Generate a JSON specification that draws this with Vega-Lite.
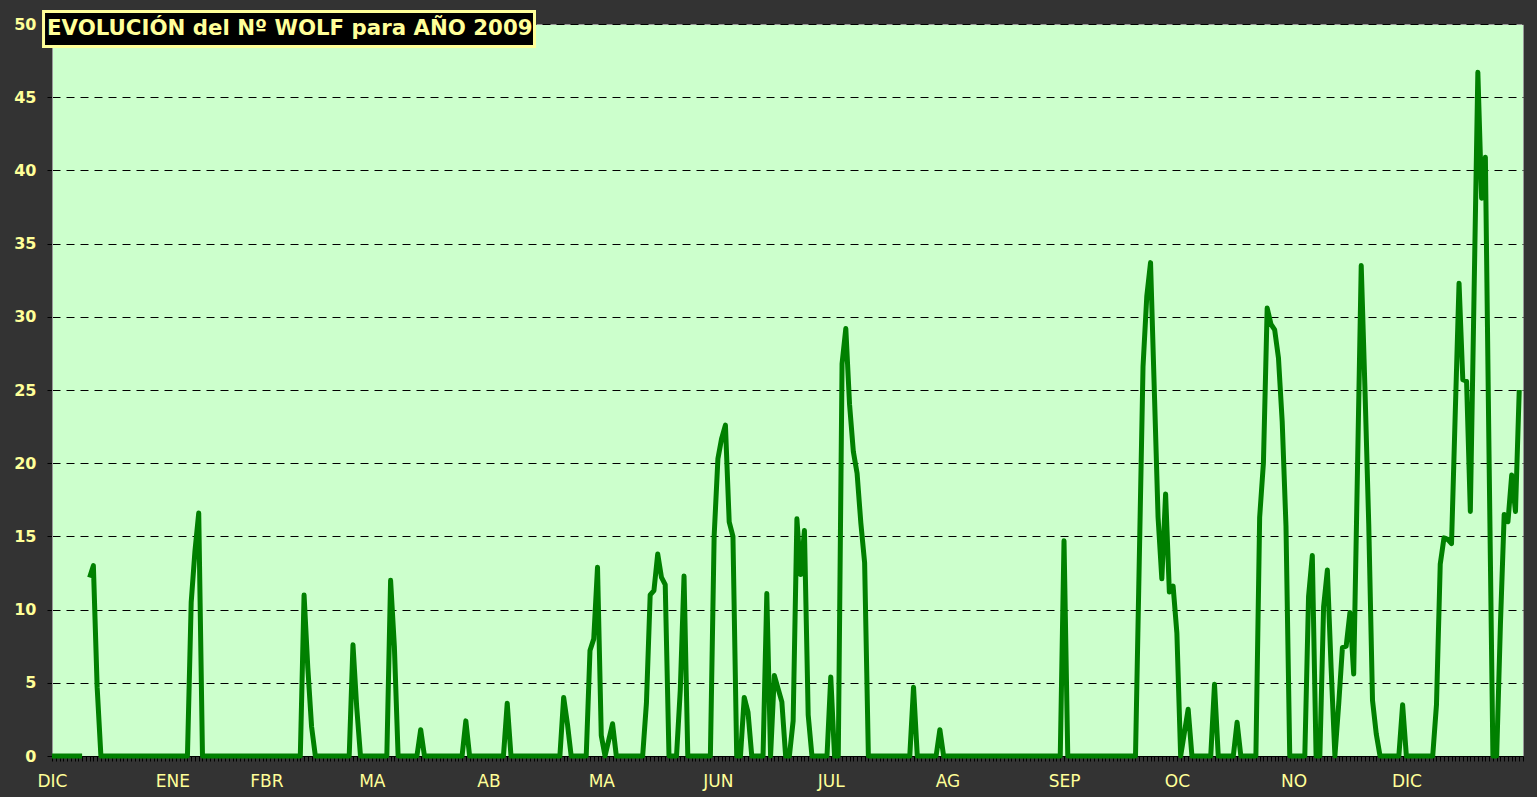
{
  "$schema": "https://vega.github.io/schema/vega-lite/v6.json",
  "width": 1471,
  "height": 732,
  "autosize": {"type": "none"},
  "padding": {"left": 52, "top": 24, "right": 14, "bottom": 41},
  "background": "#333333",
  "config": {
    "font": "DejaVu Sans",
    "view": {"fill": "#ccffcc", "stroke": "#999999", "strokeWidth": 1}
  },
  "title": {
    "text": "EVOLUCIÓN del Nº WOLF para AÑO 2009",
    "anchor": "start",
    "frame": "group",
    "color": "#ffff99",
    "font": "DejaVu Sans",
    "fontSize": 21.3,
    "fontWeight": "bold",
    "baseline": "alphabetic",
    "offset": -18,
    "dx": -5,
    "dy": 28
  },
  "datasets": {
    "wolf2009": [
      {"fecha":"2008-12-06","wolf":0},{"fecha":"2008-12-07","wolf":0},{"fecha":"2008-12-08","wolf":0},{"fecha":"2008-12-09","wolf":0},{"fecha":"2008-12-10","wolf":0},{"fecha":"2008-12-11","wolf":0},{"fecha":"2008-12-12","wolf":0},{"fecha":"2008-12-13","wolf":0},{"fecha":"2008-12-14","wolf":0},{"fecha":"2008-12-15","wolf":null},{"fecha":"2008-12-16","wolf":12.2},{"fecha":"2008-12-17","wolf":13.0},{"fecha":"2008-12-18","wolf":4.7},{"fecha":"2008-12-19","wolf":0},{"fecha":"2008-12-20","wolf":0},{"fecha":"2008-12-21","wolf":0},{"fecha":"2008-12-22","wolf":0},{"fecha":"2008-12-23","wolf":0},{"fecha":"2008-12-24","wolf":0},{"fecha":"2008-12-25","wolf":0},{"fecha":"2008-12-26","wolf":0},{"fecha":"2008-12-27","wolf":0},{"fecha":"2008-12-28","wolf":0},{"fecha":"2008-12-29","wolf":0},{"fecha":"2008-12-30","wolf":0},{"fecha":"2008-12-31","wolf":0},
      {"fecha":"2009-01-01","wolf":0},{"fecha":"2009-01-02","wolf":0},{"fecha":"2009-01-03","wolf":0},{"fecha":"2009-01-04","wolf":0},{"fecha":"2009-01-05","wolf":0},{"fecha":"2009-01-06","wolf":0},{"fecha":"2009-01-07","wolf":0},{"fecha":"2009-01-08","wolf":0},{"fecha":"2009-01-09","wolf":0},{"fecha":"2009-01-10","wolf":0},{"fecha":"2009-01-11","wolf":0},{"fecha":"2009-01-12","wolf":10.5},{"fecha":"2009-01-13","wolf":14.0},{"fecha":"2009-01-14","wolf":16.6},{"fecha":"2009-01-15","wolf":0},{"fecha":"2009-01-16","wolf":0},{"fecha":"2009-01-17","wolf":0},{"fecha":"2009-01-18","wolf":0},{"fecha":"2009-01-19","wolf":0},{"fecha":"2009-01-20","wolf":0},{"fecha":"2009-01-21","wolf":0},{"fecha":"2009-01-22","wolf":0},{"fecha":"2009-01-23","wolf":0},{"fecha":"2009-01-24","wolf":0},{"fecha":"2009-01-25","wolf":0},{"fecha":"2009-01-26","wolf":0},{"fecha":"2009-01-27","wolf":0},{"fecha":"2009-01-28","wolf":0},{"fecha":"2009-01-29","wolf":0},{"fecha":"2009-01-30","wolf":0},{"fecha":"2009-01-31","wolf":0},
      {"fecha":"2009-02-01","wolf":0},{"fecha":"2009-02-02","wolf":0},{"fecha":"2009-02-03","wolf":0},{"fecha":"2009-02-04","wolf":0},{"fecha":"2009-02-05","wolf":0},{"fecha":"2009-02-06","wolf":0},{"fecha":"2009-02-07","wolf":0},{"fecha":"2009-02-08","wolf":0},{"fecha":"2009-02-09","wolf":0},{"fecha":"2009-02-10","wolf":0},{"fecha":"2009-02-11","wolf":11.0},{"fecha":"2009-02-12","wolf":6.0},{"fecha":"2009-02-13","wolf":2.0},{"fecha":"2009-02-14","wolf":0},{"fecha":"2009-02-15","wolf":0},{"fecha":"2009-02-16","wolf":0},{"fecha":"2009-02-17","wolf":0},{"fecha":"2009-02-18","wolf":0},{"fecha":"2009-02-19","wolf":0},{"fecha":"2009-02-20","wolf":0},{"fecha":"2009-02-21","wolf":0},{"fecha":"2009-02-22","wolf":0},{"fecha":"2009-02-23","wolf":0},{"fecha":"2009-02-24","wolf":7.6},{"fecha":"2009-02-25","wolf":3.3},{"fecha":"2009-02-26","wolf":0},{"fecha":"2009-02-27","wolf":0},{"fecha":"2009-02-28","wolf":0},
      {"fecha":"2009-03-01","wolf":0},{"fecha":"2009-03-02","wolf":0},{"fecha":"2009-03-03","wolf":0},{"fecha":"2009-03-04","wolf":0},{"fecha":"2009-03-05","wolf":0},{"fecha":"2009-03-06","wolf":12.0},{"fecha":"2009-03-07","wolf":7.5},{"fecha":"2009-03-08","wolf":0},{"fecha":"2009-03-09","wolf":0},{"fecha":"2009-03-10","wolf":0},{"fecha":"2009-03-11","wolf":0},{"fecha":"2009-03-12","wolf":0},{"fecha":"2009-03-13","wolf":0},{"fecha":"2009-03-14","wolf":1.8},{"fecha":"2009-03-15","wolf":0},{"fecha":"2009-03-16","wolf":0},{"fecha":"2009-03-17","wolf":0},{"fecha":"2009-03-18","wolf":0},{"fecha":"2009-03-19","wolf":0},{"fecha":"2009-03-20","wolf":0},{"fecha":"2009-03-21","wolf":0},{"fecha":"2009-03-22","wolf":0},{"fecha":"2009-03-23","wolf":0},{"fecha":"2009-03-24","wolf":0},{"fecha":"2009-03-25","wolf":0},{"fecha":"2009-03-26","wolf":2.4},{"fecha":"2009-03-27","wolf":0},{"fecha":"2009-03-28","wolf":0},{"fecha":"2009-03-29","wolf":0},{"fecha":"2009-03-30","wolf":0},{"fecha":"2009-03-31","wolf":0},
      {"fecha":"2009-04-01","wolf":0},{"fecha":"2009-04-02","wolf":0},{"fecha":"2009-04-03","wolf":0},{"fecha":"2009-04-04","wolf":0},{"fecha":"2009-04-05","wolf":0},{"fecha":"2009-04-06","wolf":3.6},{"fecha":"2009-04-07","wolf":0},{"fecha":"2009-04-08","wolf":0},{"fecha":"2009-04-09","wolf":0},{"fecha":"2009-04-10","wolf":0},{"fecha":"2009-04-11","wolf":0},{"fecha":"2009-04-12","wolf":0},{"fecha":"2009-04-13","wolf":0},{"fecha":"2009-04-14","wolf":0},{"fecha":"2009-04-15","wolf":0},{"fecha":"2009-04-16","wolf":0},{"fecha":"2009-04-17","wolf":0},{"fecha":"2009-04-18","wolf":0},{"fecha":"2009-04-19","wolf":0},{"fecha":"2009-04-20","wolf":0},{"fecha":"2009-04-21","wolf":4.0},{"fecha":"2009-04-22","wolf":2.2},{"fecha":"2009-04-23","wolf":0},{"fecha":"2009-04-24","wolf":0},{"fecha":"2009-04-25","wolf":0},{"fecha":"2009-04-26","wolf":0},{"fecha":"2009-04-27","wolf":0},{"fecha":"2009-04-28","wolf":7.2},{"fecha":"2009-04-29","wolf":8.0},{"fecha":"2009-04-30","wolf":12.9},
      {"fecha":"2009-05-01","wolf":1.4},{"fecha":"2009-05-02","wolf":0},{"fecha":"2009-05-03","wolf":1.1},{"fecha":"2009-05-04","wolf":2.2},{"fecha":"2009-05-05","wolf":0},{"fecha":"2009-05-06","wolf":0},{"fecha":"2009-05-07","wolf":0},{"fecha":"2009-05-08","wolf":0},{"fecha":"2009-05-09","wolf":0},{"fecha":"2009-05-10","wolf":0},{"fecha":"2009-05-11","wolf":0},{"fecha":"2009-05-12","wolf":0},{"fecha":"2009-05-13","wolf":3.6},{"fecha":"2009-05-14","wolf":11.0},{"fecha":"2009-05-15","wolf":11.3},{"fecha":"2009-05-16","wolf":13.8},{"fecha":"2009-05-17","wolf":12.2},{"fecha":"2009-05-18","wolf":11.7},{"fecha":"2009-05-19","wolf":0},{"fecha":"2009-05-20","wolf":0},{"fecha":"2009-05-21","wolf":0},{"fecha":"2009-05-22","wolf":4.5},{"fecha":"2009-05-23","wolf":12.3},{"fecha":"2009-05-24","wolf":0},{"fecha":"2009-05-25","wolf":0},{"fecha":"2009-05-26","wolf":0},{"fecha":"2009-05-27","wolf":0},{"fecha":"2009-05-28","wolf":0},{"fecha":"2009-05-29","wolf":0},{"fecha":"2009-05-30","wolf":0},{"fecha":"2009-05-31","wolf":15.0},
      {"fecha":"2009-06-01","wolf":20.3},{"fecha":"2009-06-02","wolf":21.7},{"fecha":"2009-06-03","wolf":22.6},{"fecha":"2009-06-04","wolf":16.0},{"fecha":"2009-06-05","wolf":15.0},{"fecha":"2009-06-06","wolf":0},{"fecha":"2009-06-07","wolf":0},{"fecha":"2009-06-08","wolf":4.0},{"fecha":"2009-06-09","wolf":3.0},{"fecha":"2009-06-10","wolf":0},{"fecha":"2009-06-11","wolf":0},{"fecha":"2009-06-12","wolf":0},{"fecha":"2009-06-13","wolf":0},{"fecha":"2009-06-14","wolf":11.1},{"fecha":"2009-06-15","wolf":0},{"fecha":"2009-06-16","wolf":5.5},{"fecha":"2009-06-17","wolf":4.6},{"fecha":"2009-06-18","wolf":3.7},{"fecha":"2009-06-19","wolf":0},{"fecha":"2009-06-20","wolf":0},{"fecha":"2009-06-21","wolf":2.4},{"fecha":"2009-06-22","wolf":16.2},{"fecha":"2009-06-23","wolf":12.4},{"fecha":"2009-06-24","wolf":15.4},{"fecha":"2009-06-25","wolf":2.8},{"fecha":"2009-06-26","wolf":0},{"fecha":"2009-06-27","wolf":0},{"fecha":"2009-06-28","wolf":0},{"fecha":"2009-06-29","wolf":0},{"fecha":"2009-06-30","wolf":0},
      {"fecha":"2009-07-01","wolf":5.4},{"fecha":"2009-07-02","wolf":0},{"fecha":"2009-07-03","wolf":0},{"fecha":"2009-07-04","wolf":26.8},{"fecha":"2009-07-05","wolf":29.2},{"fecha":"2009-07-06","wolf":24.0},{"fecha":"2009-07-07","wolf":20.8},{"fecha":"2009-07-08","wolf":19.3},{"fecha":"2009-07-09","wolf":15.9},{"fecha":"2009-07-10","wolf":13.2},{"fecha":"2009-07-11","wolf":0},{"fecha":"2009-07-12","wolf":0},{"fecha":"2009-07-13","wolf":0},{"fecha":"2009-07-14","wolf":0},{"fecha":"2009-07-15","wolf":0},{"fecha":"2009-07-16","wolf":0},{"fecha":"2009-07-17","wolf":0},{"fecha":"2009-07-18","wolf":0},{"fecha":"2009-07-19","wolf":0},{"fecha":"2009-07-20","wolf":0},{"fecha":"2009-07-21","wolf":0},{"fecha":"2009-07-22","wolf":0},{"fecha":"2009-07-23","wolf":4.7},{"fecha":"2009-07-24","wolf":0},{"fecha":"2009-07-25","wolf":0},{"fecha":"2009-07-26","wolf":0},{"fecha":"2009-07-27","wolf":0},{"fecha":"2009-07-28","wolf":0},{"fecha":"2009-07-29","wolf":0},{"fecha":"2009-07-30","wolf":1.8},{"fecha":"2009-07-31","wolf":0},
      {"fecha":"2009-08-01","wolf":0},{"fecha":"2009-08-02","wolf":0},{"fecha":"2009-08-03","wolf":0},{"fecha":"2009-08-04","wolf":0},{"fecha":"2009-08-05","wolf":0},{"fecha":"2009-08-06","wolf":0},{"fecha":"2009-08-07","wolf":0},{"fecha":"2009-08-08","wolf":0},{"fecha":"2009-08-09","wolf":0},{"fecha":"2009-08-10","wolf":0},{"fecha":"2009-08-11","wolf":0},{"fecha":"2009-08-12","wolf":0},{"fecha":"2009-08-13","wolf":0},{"fecha":"2009-08-14","wolf":0},{"fecha":"2009-08-15","wolf":0},{"fecha":"2009-08-16","wolf":0},{"fecha":"2009-08-17","wolf":0},{"fecha":"2009-08-18","wolf":0},{"fecha":"2009-08-19","wolf":0},{"fecha":"2009-08-20","wolf":0},{"fecha":"2009-08-21","wolf":0},{"fecha":"2009-08-22","wolf":0},{"fecha":"2009-08-23","wolf":0},{"fecha":"2009-08-24","wolf":0},{"fecha":"2009-08-25","wolf":0},{"fecha":"2009-08-26","wolf":0},{"fecha":"2009-08-27","wolf":0},{"fecha":"2009-08-28","wolf":0},{"fecha":"2009-08-29","wolf":0},{"fecha":"2009-08-30","wolf":0},{"fecha":"2009-08-31","wolf":0},
      {"fecha":"2009-09-01","wolf":14.7},{"fecha":"2009-09-02","wolf":0},{"fecha":"2009-09-03","wolf":0},{"fecha":"2009-09-04","wolf":0},{"fecha":"2009-09-05","wolf":0},{"fecha":"2009-09-06","wolf":0},{"fecha":"2009-09-07","wolf":0},{"fecha":"2009-09-08","wolf":0},{"fecha":"2009-09-09","wolf":0},{"fecha":"2009-09-10","wolf":0},{"fecha":"2009-09-11","wolf":0},{"fecha":"2009-09-12","wolf":0},{"fecha":"2009-09-13","wolf":0},{"fecha":"2009-09-14","wolf":0},{"fecha":"2009-09-15","wolf":0},{"fecha":"2009-09-16","wolf":0},{"fecha":"2009-09-17","wolf":0},{"fecha":"2009-09-18","wolf":0},{"fecha":"2009-09-19","wolf":0},{"fecha":"2009-09-20","wolf":0},{"fecha":"2009-09-21","wolf":13.3},{"fecha":"2009-09-22","wolf":26.6},{"fecha":"2009-09-23","wolf":31.4},{"fecha":"2009-09-24","wolf":33.7},{"fecha":"2009-09-25","wolf":25.0},{"fecha":"2009-09-26","wolf":16.3},{"fecha":"2009-09-27","wolf":12.1},{"fecha":"2009-09-28","wolf":17.9},{"fecha":"2009-09-29","wolf":11.2},{"fecha":"2009-09-30","wolf":11.6},
      {"fecha":"2009-10-01","wolf":8.4},{"fecha":"2009-10-02","wolf":0},{"fecha":"2009-10-03","wolf":1.6},{"fecha":"2009-10-04","wolf":3.2},{"fecha":"2009-10-05","wolf":0},{"fecha":"2009-10-06","wolf":0},{"fecha":"2009-10-07","wolf":0},{"fecha":"2009-10-08","wolf":0},{"fecha":"2009-10-09","wolf":0},{"fecha":"2009-10-10","wolf":0},{"fecha":"2009-10-11","wolf":4.9},{"fecha":"2009-10-12","wolf":0},{"fecha":"2009-10-13","wolf":0},{"fecha":"2009-10-14","wolf":0},{"fecha":"2009-10-15","wolf":0},{"fecha":"2009-10-16","wolf":0},{"fecha":"2009-10-17","wolf":2.3},{"fecha":"2009-10-18","wolf":0},{"fecha":"2009-10-19","wolf":0},{"fecha":"2009-10-20","wolf":0},{"fecha":"2009-10-21","wolf":0},{"fecha":"2009-10-22","wolf":0},{"fecha":"2009-10-23","wolf":16.3},{"fecha":"2009-10-24","wolf":20.0},{"fecha":"2009-10-25","wolf":30.6},{"fecha":"2009-10-26","wolf":29.5},{"fecha":"2009-10-27","wolf":29.1},{"fecha":"2009-10-28","wolf":27.2},{"fecha":"2009-10-29","wolf":22.8},{"fecha":"2009-10-30","wolf":15.7},{"fecha":"2009-10-31","wolf":0},
      {"fecha":"2009-11-01","wolf":0},{"fecha":"2009-11-02","wolf":0},{"fecha":"2009-11-03","wolf":0},{"fecha":"2009-11-04","wolf":0},{"fecha":"2009-11-05","wolf":10.9},{"fecha":"2009-11-06","wolf":13.7},{"fecha":"2009-11-07","wolf":0},{"fecha":"2009-11-08","wolf":0},{"fecha":"2009-11-09","wolf":10.2},{"fecha":"2009-11-10","wolf":12.7},{"fecha":"2009-11-11","wolf":6.0},{"fecha":"2009-11-12","wolf":0},{"fecha":"2009-11-13","wolf":3.5},{"fecha":"2009-11-14","wolf":7.4},{"fecha":"2009-11-15","wolf":7.5},{"fecha":"2009-11-16","wolf":9.8},{"fecha":"2009-11-17","wolf":5.6},{"fecha":"2009-11-18","wolf":19.5},{"fecha":"2009-11-19","wolf":33.5},{"fecha":"2009-11-20","wolf":25.0},{"fecha":"2009-11-21","wolf":15.8},{"fecha":"2009-11-22","wolf":3.8},{"fecha":"2009-11-23","wolf":1.5},{"fecha":"2009-11-24","wolf":0},{"fecha":"2009-11-25","wolf":0},{"fecha":"2009-11-26","wolf":0},{"fecha":"2009-11-27","wolf":0},{"fecha":"2009-11-28","wolf":0},{"fecha":"2009-11-29","wolf":0},{"fecha":"2009-11-30","wolf":3.5},
      {"fecha":"2009-12-01","wolf":0},{"fecha":"2009-12-02","wolf":0},{"fecha":"2009-12-03","wolf":0},{"fecha":"2009-12-04","wolf":0},{"fecha":"2009-12-05","wolf":0},{"fecha":"2009-12-06","wolf":0},{"fecha":"2009-12-07","wolf":0},{"fecha":"2009-12-08","wolf":0},{"fecha":"2009-12-09","wolf":3.5},{"fecha":"2009-12-10","wolf":13.1},{"fecha":"2009-12-11","wolf":14.9},{"fecha":"2009-12-12","wolf":14.8},{"fecha":"2009-12-13","wolf":14.5},{"fecha":"2009-12-14","wolf":23.5},{"fecha":"2009-12-15","wolf":32.3},{"fecha":"2009-12-16","wolf":25.7},{"fecha":"2009-12-17","wolf":25.6},{"fecha":"2009-12-18","wolf":16.7},{"fecha":"2009-12-19","wolf":31.7},{"fecha":"2009-12-20","wolf":46.7},{"fecha":"2009-12-21","wolf":38.1},{"fecha":"2009-12-22","wolf":40.9},{"fecha":"2009-12-23","wolf":20.0},{"fecha":"2009-12-24","wolf":0},{"fecha":"2009-12-25","wolf":0},{"fecha":"2009-12-26","wolf":9.0},{"fecha":"2009-12-27","wolf":16.5},{"fecha":"2009-12-28","wolf":16.0},{"fecha":"2009-12-29","wolf":19.2},{"fecha":"2009-12-30","wolf":16.7},{"fecha":"2009-12-31","wolf":25.0}
    ]
  },
  "layer": [
    {
      "data": {"name": "wolf2009"},
      "mark": {"type": "line", "color": "#008000", "strokeWidth": 5, "strokeJoin": "round", "strokeCap": "butt", "invalid": "break-paths-show-domains"},
      "encoding": {
        "x": {
          "field": "fecha",
          "type": "temporal",
          "scale": {"type": "utc", "domain": [{"year": 2008, "month": 12, "date": 6, "utc": true}, {"year": 2010, "month": 1, "date": 1, "utc": true}]},
          "axis": {
            "title": null,
            "grid": false,
            "tickCount": {"interval": "day", "step": 1},
            "labelExpr": "(utcmonth(datum.value)==0 ? utcdate(datum.value)==7 : (utcdate(datum.value)==1 || (utcyear(datum.value)==2008 && utcdate(datum.value)==6))) ? ['ENE','FBR','MA','AB','MA','JUN','JUL','AG','SEP','OC','NO','DIC'][utcmonth(datum.value)] : ''",
            "labelOverlap": false,
            "labelFlush": false,
            "labelBound": false,
            "labelAngle": 0,
            "labelColor": "#ffff99",
            "labelFont": "DejaVu Sans",
            "labelFontSize": 17,
            "labelFontWeight": "normal",
            "labelPadding": 12,
            "tickColor": "#000000",
            "tickSize": 5,
            "tickWidth": 1,
            "domainColor": "#000000",
            "domainWidth": 1
          }
        },
        "y": {
          "field": "wolf",
          "type": "quantitative",
          "scale": {"domain": [0, 50], "nice": false},
          "axis": {
            "title": null,
            "values": [0, 5, 10, 15, 20, 25, 30, 35, 40, 45, 50],
            "grid": true,
            "gridColor": "#000000",
            "gridDash": [8, 6],
            "gridWidth": 1,
            "labelColor": "#ffff99",
            "labelFont": "DejaVu Sans",
            "labelFontSize": 16,
            "labelFontWeight": "bold",
            "labelPadding": 11,
            "labelFlush": false,
            "tickColor": "#000000",
            "tickSize": 5,
            "domainColor": "#999999"
          }
        }
      }
    },
    {
      "data": {"values": [{}]},
      "mark": {"type": "rect", "fill": "#000000", "xOffset": 5, "yOffset": 5},
      "encoding": {
        "x": {"datum": {"year": 2008, "month": 12, "date": 3, "hours": 18, "utc": true}, "type": "temporal"},
        "x2": {"datum": {"year": 2009, "month": 4, "date": 13, "hours": 6, "utc": true}},
        "y": {"datum": 50.85, "type": "quantitative"},
        "y2": {"datum": 48.46}
      }
    },
    {
      "data": {"values": [{}]},
      "mark": {"type": "rect", "fill": "#000000", "stroke": "#ffff99", "strokeWidth": 3},
      "encoding": {
        "x": {"datum": {"year": 2008, "month": 12, "date": 3, "hours": 18, "utc": true}, "type": "temporal"},
        "x2": {"datum": {"year": 2009, "month": 4, "date": 13, "hours": 6, "utc": true}},
        "y": {"datum": 50.85, "type": "quantitative"},
        "y2": {"datum": 48.46}
      }
    }
  ]
}
